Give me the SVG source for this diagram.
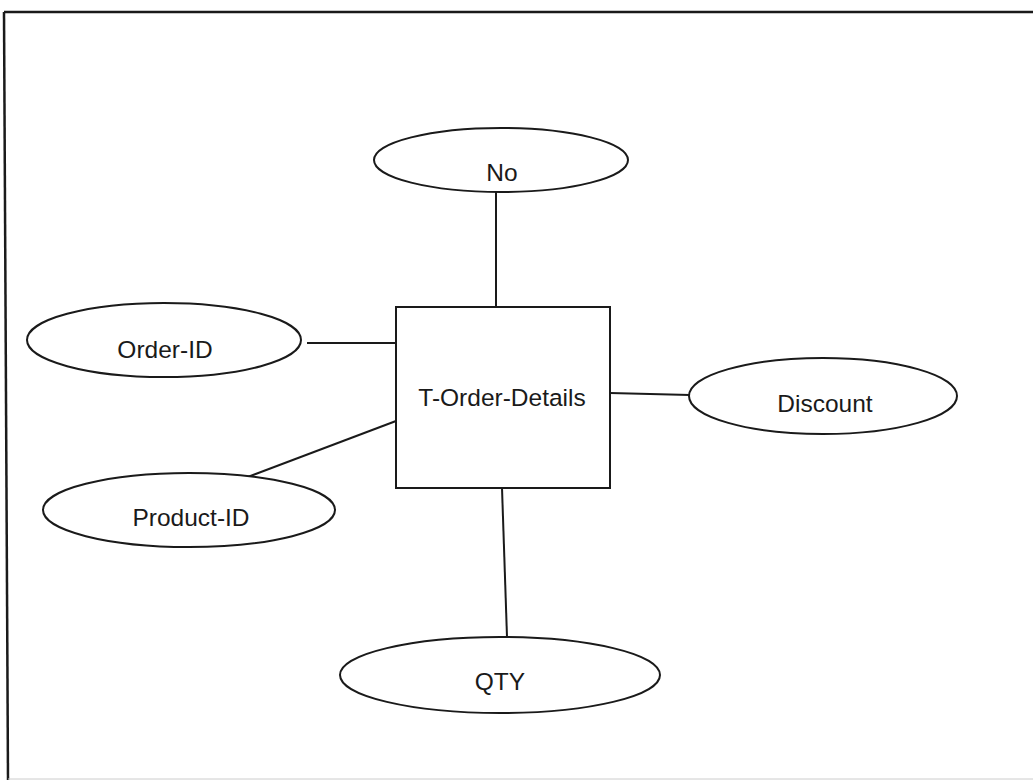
<svg xmlns="http://www.w3.org/2000/svg" width="1033" height="780" viewBox="0 0 1033 780">
<style>
.shape{fill:#fff;stroke:#1a1a1a;stroke-width:2}
.conn{stroke:#1a1a1a;stroke-width:2;fill:none}
.lbl{font-family:"Liberation Sans",Arial,sans-serif;font-size:24.5px;fill:#1a1a1a;text-anchor:middle}
</style>
<rect width="1033" height="780" fill="#fff"/>
<g id="frame" fill="none" stroke="#1a1a1a">
<line x1="4" y1="12" x2="1033" y2="12" stroke-width="2.5"/>
<line x1="4" y1="12" x2="8" y2="780" stroke-width="2.5"/>
<line x1="8" y1="779" x2="1033" y2="779" stroke="#ccc" stroke-width="1"/>
</g>
<g id="connectors">
<line class="conn" x1="496" y1="192" x2="496" y2="307"/>
<line class="conn" x1="307" y1="343" x2="396" y2="343"/>
<line class="conn" x1="396" y1="421" x2="245" y2="478" stroke-width="2.6"/>
<line class="conn" x1="610" y1="393" x2="690" y2="395"/>
<line class="conn" x1="502" y1="488" x2="507" y2="637"/>
</g>
<g id="t-order-details">
<rect class="shape" x="396" y="307" width="214" height="181"/>
<text class="lbl" x="502" y="406">T-Order-Details</text>
</g>
<g id="no">
<ellipse class="shape" cx="501" cy="160" rx="127" ry="32"/>
<text class="lbl" x="502" y="181">No</text>
</g>
<g id="order-id">
<ellipse class="shape" cx="164" cy="340" rx="137" ry="37"/>
<text class="lbl" x="165" y="358">Order-ID</text>
</g>
<g id="product-id">
<ellipse class="shape" cx="189" cy="510" rx="146" ry="37"/>
<text class="lbl" x="191" y="526">Product-ID</text>
</g>
<g id="discount">
<ellipse class="shape" cx="823" cy="396" rx="134" ry="38"/>
<text class="lbl" x="825" y="412">Discount</text>
</g>
<g id="qty">
<ellipse class="shape" cx="500" cy="675" rx="160" ry="38"/>
<text class="lbl" x="500" y="690">QTY</text>
</g>
</svg>
